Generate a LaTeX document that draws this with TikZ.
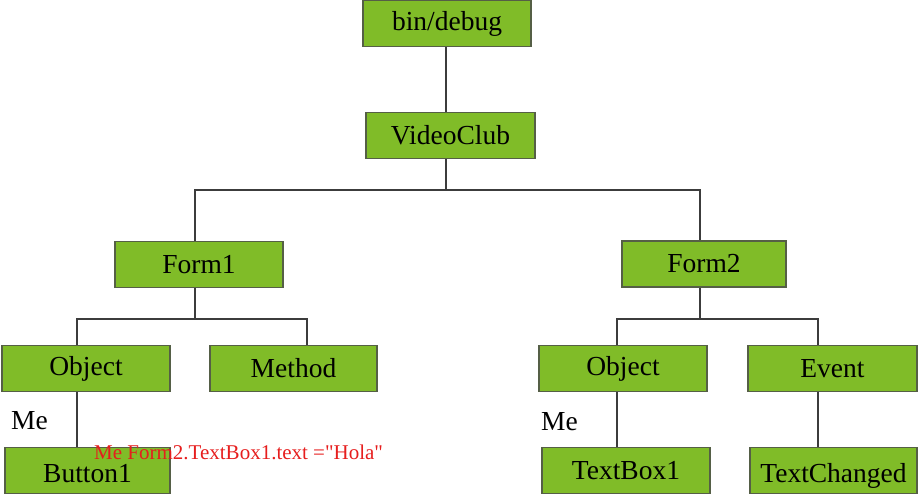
\documentclass[tikz,border=0pt]{standalone}
\usepackage{fontspec}
\setmainfont{Liberation Serif}
\newfontfamily\codefont[Ligatures=TeXOff]{Liberation Serif}
\begin{document}
\begin{tikzpicture}[x=1pt,y=-1pt,
  box/.style={draw={rgb,255:red,85;green,95;blue,70}, line width=1.2pt,
    fill={rgb,255:red,128;green,188;blue,40}, minimum height=46pt,
    inner sep=0pt, font=\fontsize{27.5}{30}\selectfont, text=black},
  lowtext/.style={text height=23pt, text depth=0pt},
  conn/.style={draw={rgb,255:red,60;green,60;blue,60}, line width=2pt},
  lbl/.style={font=\fontsize{27.5}{30}\selectfont, inner sep=0pt, text=black}]
\useasboundingbox (0,0) rectangle (918,495);
% nodes
\node[box, minimum width=168pt] (bd) at (447,23.5) {bin/debug};
\node[box, minimum width=169pt] (vc) at (450.5,135.5) {VideoClub};
\node[box, minimum width=168pt] (f1) at (199,264.5) {Form1};
\node[box, minimum width=164pt] (f2) at (704,264) {Form2};
\node[box, minimum width=168pt] (o1) at (86,368.5) {Object};
\node[box, minimum width=167pt] (mt) at (293.5,368.5) {Method};
\node[box, lowtext, minimum width=165pt] (b1) at (87.5,470.5) {Button1};
\node[box, minimum width=168pt] (o2) at (623,368.5) {Object};
\node[box, minimum width=169pt] (ev) at (832.5,368.5) {Event};
\node[box, minimum width=168pt] (tb) at (626,470.5) {TextBox1};
\node[box, lowtext, minimum width=167pt] (tc) at (833.5,470.5) {TextChanged};
% labels
\node[lbl, anchor=west] (me1) at (11,421) {Me};
\node[lbl, anchor=west] (me2) at (541,422) {Me};
\node[font=\codefont\fontsize{21}{24}\selectfont, text={rgb,255:red,230;green,30;blue,30}, inner sep=0pt, anchor=west] (code) at (94,452) {Me Form2.TextBox1.text ="Hola"};
% junction coordinates
\coordinate (j0) at (446,190);
\coordinate (j0l) at (195,190);
\coordinate (j0r) at (700,190);
\coordinate (j1) at (195,319);
\coordinate (j1l) at (77,319);
\coordinate (j1r) at (307,319);
\coordinate (j2) at (700,319);
\coordinate (j2l) at (617,319);
\coordinate (j2r) at (818,319);
% connectors
\draw[conn] (bd.south -| j0) -- (vc.north -| j0);
\draw[conn] (vc.south -| j0) -- (j0);
\draw[conn] (f1.north -| j0l) -- (j0l) -- (j0r) -- (f2.north -| j0r);
\draw[conn] (f1.south -| j1) -- (j1);
\draw[conn] (o1.north -| j1l) -- (j1l) -- (j1r) -- (mt.north -| j1r);
\draw[conn] (o1.south -| j1l) -- (b1.north -| j1l);
\draw[conn] (f2.south -| j2) -- (j2);
\draw[conn] (o2.north -| j2l) -- (j2l) -- (j2r) -- (ev.north -| j2r);
\draw[conn] (o2.south -| j2l) -- (tb.north -| j2l);
\draw[conn] (ev.south -| j2r) -- (tc.north -| j2r);
\end{tikzpicture}
\end{document}
